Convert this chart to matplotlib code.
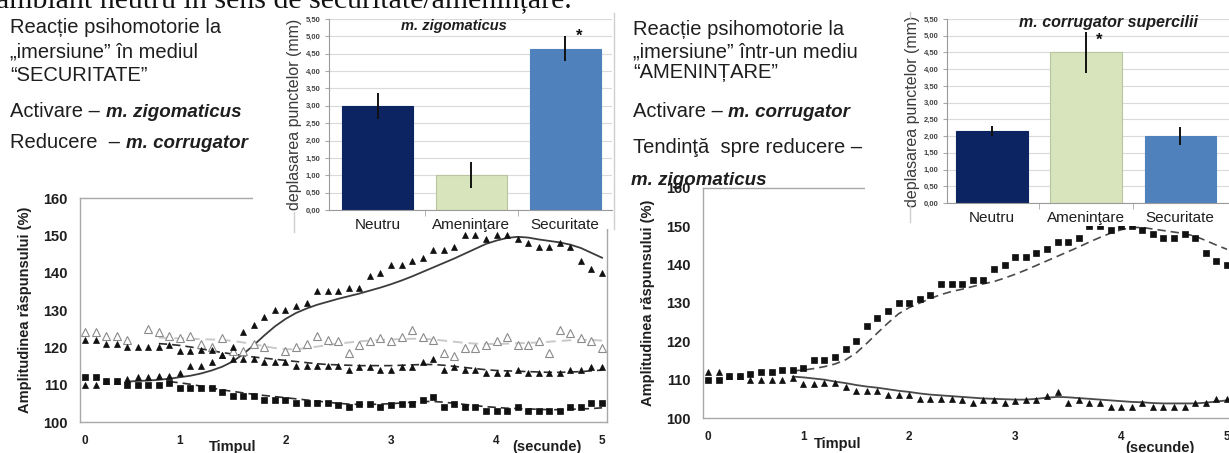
import matplotlib
matplotlib.use('Agg')
import matplotlib.pyplot as plt
from matplotlib.patches import Rectangle
from matplotlib.lines import Line2D
import numpy as np

plt.rcParams['font.family'] = ['Liberation Sans', 'DejaVu Sans']

W, H = 1229, 453
nan = np.nan

# 50 samples, 0.1 s apart
time_s = np.round(np.arange(1, 51) * 0.1, 1)
time_ticks = [0.1, 1, 2, 3, 4, 5]
time_labels = ['0', '1', '2', '3', '4', '5']

# response amplitude (%) per sample
rise_pts = [110, 110, 111, 111, 111.5, 112, 112, 112.4, 112.4, 113,
            115, 115, 116, 118, 120, 124, 126, 128, 130, 130,
            131, 132, 135, 135, 135, 136, 136, 139, 140, 142,
            142, 143, 144, 146, 146, 147, 150, 150, 149, 150,
            150, 149, 148, 147, 147, 148, 147, 143, 141, 140]
low_pts = [112, 112, 111, 111, 110, 110, 110, 110, 110.5, 109,
           109, 109.2, 109.2, 108, 107, 107, 107, 106, 106, 106,
           105, 105, 105, 105, 104.6, 104, 104.8, 104.8, 104, 104.5,
           104.8, 104.8, 105.8, 106.8, 104, 104.8, 104, 104, 103, 103,
           103, 104, 103, 103, 103, 103, 104, 104, 105, 105]
mid_pts = [122, 122, 121, 121, 120, 120, 120, 120, 120.5, 119,
           119, 119.2, 119.2, 118, 117, 117, 117, 116, 116, 116,
           115, 115, 115, 115, 115, 114, 114.8, 114.8, 114, 114,
           114.8, 114.8, 116, 117, 114, 114.8, 114, 114, 113, 113,
           113, 114, 113, 113, 113, 113, 114, 114, 114.8, 114.8]
open_pts = [124, 124, 123, 123, 122, nan, 125, 124, 123, 122.5,
            123, 121, 120, 122.5, 119, 119, 121, 120, nan, 119,
            120, 121, 123, 122, 121.6, 118.5, 120.7, 121.6, 122.5, 121.6,
            122.9, 124.7, 122.9, 122, 118.5, 117.6, 119.8, 119.8, 120.7, 121.6,
            122.9, 120.7, 120.7, 121.6, 118.5, 124.7, 123.8, 122.5, 121.6, 119.8]

# smoothed curves
rise_fit = [nan] * 4 + [110.8, 111, 111.1, 111.3, 111.6, 112,
            112.4, 113, 113.8, 114.8, 116.2, 118.2, 120.6, 123.2, 125.6, 127.6,
            129.2, 130.4, 131.4, 132.2, 133, 133.7, 134.4, 135.2, 136, 136.9,
            137.9, 139, 140.2, 141.4, 142.6, 143.8, 145.1, 146.4, 147.7, 148.6,
            149.3, 149.6, 149.4, 148.9, 148.5, 148.1, 147.5, 146.6, 145.3, 144]
mid_fit = [nan] * 7 + [121, 120.8, 120.5,
           120.1, 119.6, 119.1, 118.6, 118.2, 117.8, 117.4, 117.1, 116.8, 116.5,
           116.2, 115.9, 115.6, 115.4, 115.3, 115.2, 115.1, 115.1, 115.1, 115.1,
           115.2, 115.3, 115.4, 115.4, 115.2, 114.9, 114.6, 114.3, 114, 113.8,
           113.7, 113.6, 113.5, 113.4, 113.3, 113.3, 113.4, 113.5, 113.7, 113.9]
low_fit = [nan] * 8 + [110.8, 110.5,
           110.1, 109.6, 109.1, 108.6, 108.2, 107.8, 107.4, 107.1, 106.8, 106.5,
           106.2, 105.9, 105.6, 105.3, 105, 104.8, 104.7, 104.7, 104.8, 104.9,
           105.1, 105.3, 105.5, 105.5, 105.3, 105, 104.7, 104.4, 104.1, 103.9,
           103.7, 103.6, 103.5, 103.4, 103.3, 103.3, 103.4, 103.5, 103.6, 103.8]
open_fit = [nan] * 7 + [122.6, 122.5, 122.4,
            122.3, 122.2, 122.1, 122, 121.7, 121.3, 120.8, 120.3, 119.8, 119.5,
            119.5, 119.8, 120.2, 120.6, 121, 121.3, 121.6, 121.8, 122, 122.1,
            122.2, 122.3, 122.3, 122.1, 121.8, 121.5, 121.2, 121, 120.9, 120.9,
            121, 121.1, 121.2, 121.3, 121.5, 121.7, 121.9, 122, 122, 121.8]
threat_rise_fit = [nan] * 8 + [112.3, 112.5,
                   112.9, 113.4, 114.1, 115.2, 117, 119.5, 122.2, 124.8, 127.2, 128.8,
                   130, 131.2, 132.2, 133, 133.6, 134.3, 135, 135.6, 136.5, 137.5,
                   138.6, 139.8, 141, 142.2, 143.4, 144.6, 145.9, 147.1, 148.2, 149.1,
                   149.7, 149.7, 149.3, 148.9, 148.5, 148.1, 147.4, 146.3, 145.1, 144]
threat_low_fit = [nan] * 8 + [110.8, 110.6,
                  110.3, 110, 109.5, 109.1, 108.6, 108.2, 107.9, 107.5, 107.1, 106.8,
                  106.4, 106.1, 105.9, 105.7, 105.5, 105.3, 105.1, 105, 104.9, 104.8,
                  104.8, 105, 105.3, 105.5, 105.4, 105.2, 105, 104.8, 104.6, 104.4,
                  104.2, 104.1, 103.9, 103.8, 103.8, 103.8, 103.8, 104, 104.3, 104.6]

# displacement of facial points (mm)
categories = ['Neutru', 'Ameninţare', 'Securitate']
bar_colors = ['#0c2461', '#d8e4bc', '#4f81bd']
bar_edges = ['#0c2461', '#b9c59f', '#4f81bd']
zig_mean = [3.00, 1.00, 4.65]
zig_err = [0.38, 0.38, 0.36]
cor_mean = [2.15, 4.50, 2.00]
cor_err = [0.16, 0.62, 0.27]


def fx(px):
    return px / W


def fy(py):
    return 1 - py / H


def box(left, top, right, bottom):
    return [fx(left), fy(bottom), (right - left) / W, (bottom - top) / H]


fig = plt.figure(figsize=(W / 100, H / 100), dpi=100)
renderer = fig.canvas.get_renderer()

TXT = '#1e1e1e'
FRAME = '#a8a8a8'
BODY = 14.5
EMPH = 13.5


def text_line(x, y, plain, emph=None):
    t = fig.text(fx(x), fy(y), plain, fontsize=BODY, color=TXT, va='baseline')
    if emph:
        bb = t.get_window_extent(renderer)
        fig.text(bb.x1 / fig.bbox.width, fy(y), emph, fontsize=EMPH, color=TXT,
                 va='baseline', fontweight='bold', fontstyle='italic')


def time_chart(rect):
    ax = fig.add_axes(rect, zorder=1)
    ax.set_xlim(0.053, 5.047)
    ax.set_ylim(100, 160)
    ax.set_yticks(range(100, 161, 10))
    ax.set_xticks(time_ticks, time_labels)
    ax.tick_params(length=0, labelsize=10.5, colors=TXT)
    ax.tick_params(axis='y', pad=9)
    ax.tick_params(axis='x', pad=9, labelsize=8.5)
    for lab in ax.get_xticklabels() + ax.get_yticklabels():
        lab.set_fontweight('bold')
    for s in ax.spines.values():
        s.set_color(FRAME)
        s.set_linewidth(1.0)
    ax.set_ylabel('Amplitudinea răspunsului (%)', fontsize=10.5,
                  fontweight='bold', color=TXT, labelpad=8)
    return ax


def pts(ax, y, marker, ms, face='#111111', edge='#111111', mew=0.5):
    ax.plot(time_s, y, ls='none', marker=marker, ms=ms, mfc=face, mec=edge,
            mew=mew, clip_on=False)


def bar_chart(rect, xlim, means, errs, title, title_xy, title_size, star_offset):
    ax = fig.add_axes(rect, zorder=4)
    x = np.arange(len(categories))
    ax.bar(x, means, width=0.76, color=bar_colors, edgecolor=bar_edges,
           linewidth=0.8, zorder=2)
    ax.errorbar(x, means, yerr=errs, fmt='none', ecolor='#111111',
                elinewidth=1.4, capsize=0, zorder=3)
    top = int(np.argmax(means))
    ax.annotate('*', xy=(x[top], means[top] + errs[top]), xytext=star_offset,
                textcoords='offset points', ha='center', va='center',
                fontsize=12, fontweight='bold', color='#111111')
    ax.set_xlim(*xlim)
    ax.set_ylim(0, 5.5)
    yt = np.arange(0, 5.51, 0.5)
    ax.set_yticks(yt, [('%.2f' % v).replace('.', ',') for v in yt])
    ax.grid(axis='y', color='#dadada', lw=0.8, zorder=0)
    ax.set_axisbelow(True)
    ax.set_xticks(x, categories)
    ax.set_xticks([0.5, 1.5], minor=True)
    ax.tick_params(axis='x', length=0, labelsize=11, pad=6, colors=TXT)
    ax.tick_params(axis='x', which='minor', length=4, color=FRAME)
    ax.tick_params(axis='y', length=3, labelsize=5.5, pad=3, colors='#444444',
                   color=FRAME)
    for lab in ax.get_yticklabels():
        lab.set_fontweight('bold')
    for side in ('top', 'right'):
        ax.spines[side].set_visible(False)
    for side in ('left', 'bottom'):
        ax.spines[side].set_color('#9a9a9a')
    ax.set_ylabel('deplasarea punctelor (mm)', fontsize=11.5, color='#3a3a3a',
                  labelpad=3)
    ax.text(*title_xy, title, transform=ax.transAxes, ha='center', va='center',
            fontsize=title_size, fontweight='bold', fontstyle='italic', color=TXT)
    return ax


# cut-off heading line
fig.text(fx(-4), fy(8), 'ambiant neutru în sens de securitate/amenințare.',
         family='Liberation Serif', fontsize=21.5, color='#111111', va='baseline')

# left panel text
text_line(10, 33, 'Reacție psihomotorie la')
text_line(10, 57, '„imersiune” în mediul')
text_line(10, 81, '“SECURITATE”')
text_line(10, 117, 'Activare – ', 'm. zigomaticus')
text_line(10, 148, 'Reducere  – ', 'm. corrugator')

# right panel text
text_line(633, 35, 'Reacție psihomotorie la')
text_line(633, 57, '„imersiune” într-un mediu')
text_line(633, 78, '“AMENINȚARE”')
text_line(633, 117, 'Activare – ', 'm. corrugator')
text_line(633, 153, 'Tendinţă  spre reducere –')
fig.text(fx(631), fy(185), 'm. zigomaticus', fontsize=EMPH, color=TXT,
         va='baseline', fontweight='bold', fontstyle='italic')

# left time course
ax1 = time_chart(box(80, 198, 607, 422))
ax1.plot(time_s, open_fit, color='#c9c9c9', lw=1.4, dashes=(5, 3))
ax1.plot(time_s, rise_fit, color='#3c3c3c', lw=1.3)
ax1.plot(time_s, mid_fit, color='#2e2e2e', lw=1.2, dashes=(5, 3))
ax1.plot(time_s, low_fit, color='#2e2e2e', lw=1.2, dashes=(5, 3))
pts(ax1, open_pts, '^', 5.5, face='white', edge='#8a8a8a', mew=0.8)
pts(ax1, mid_pts, '^', 5.0)
pts(ax1, low_pts, 's', 4.3)
pts(ax1, rise_pts, '^', 5.0)
fig.text(fx(233), fy(440), 'Timpul', fontsize=10.5, fontweight='bold',
         color=TXT, ha='center', va='top')
fig.text(fx(547), fy(440), '(secunde)', fontsize=10.5, fontweight='bold',
         color=TXT, ha='center', va='top')

# right time course
ax2 = time_chart(box(703, 188, 1232, 418))
ax2.plot(time_s, threat_rise_fit, color='#4a4a4a', lw=1.2, dashes=(5, 3))
ax2.plot(time_s, threat_low_fit, color='#4a4a4a', lw=1.3)
pts(ax2, low_pts, '^', 5.0)
pts(ax2, rise_pts, 's', 4.3)
fig.text(fx(838), fy(437), 'Timpul', fontsize=10.5, fontweight='bold',
         color=TXT, ha='center', va='top')
fig.text(fx(1160), fy(441), '(secunde)', fontsize=10.5, fontweight='bold',
         color=TXT, ha='center', va='top')

# white backing behind the bar charts
fig.add_artist(Rectangle((fx(253), fy(229)), (620 - 253) / W, (229 - 13) / H,
                         transform=fig.transFigure, facecolor='white',
                         edgecolor='none', zorder=3))
fig.add_artist(Rectangle((fx(865), fy(226)), (1229 - 865) / W, 226 / H,
                         transform=fig.transFigure, facecolor='white',
                         edgecolor='none', zorder=3))
for x0, y0, y1 in ((294, 212, 232), (910, 206, 222), (910, 12, 18),
                   (614, 13, 229)):
    fig.add_artist(Line2D([fx(x0), fx(x0)], [fy(y0), fy(y1)], color='#cfcfcf',
                          lw=1.0, transform=fig.transFigure, zorder=5))

bar_chart(box(329, 19, 612, 210), (-0.52, 2.50), zig_mean, zig_err,
          'm. zigomaticus', (0.44, 0.965), 10.5, (10, 0))
bar_chart(box(947, 19, 1232, 203), (-0.48, 2.55), cor_mean, cor_err,
          'm. corrugator supercilii', (0.565, 0.98), 11.5, (9, -6))

fig.savefig('out.png', dpi=100)
